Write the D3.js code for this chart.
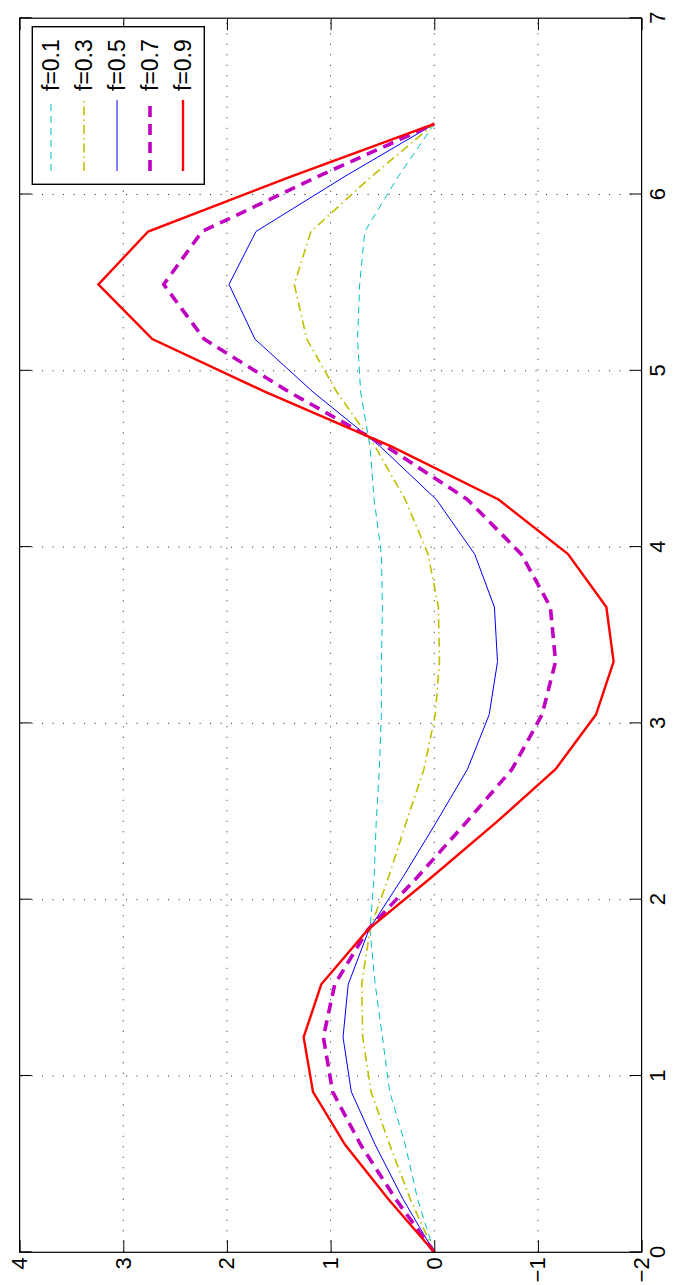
<!DOCTYPE html>
<html><head><meta charset="utf-8">
<script src="https://cdn.jsdelivr.net/npm/d3@7"></script>
<style>body{margin:0;background:#fff} svg{display:block}</style>
</head><body><svg id="c" width="673" height="1285"></svg>
<script>
const tValues = [0, 0.30, 0.61, 0.91, 1.22, 1.52, 1.83, 2.13, 2.44, 2.74, 3.05, 3.35, 3.66, 3.96, 4.27, 4.57, 4.88, 5.18, 5.49, 5.79, 6.10, 6.40];
const f01 = [0, 0.16, 0.28, 0.43, 0.50, 0.57, 0.62, 0.58, 0.56, 0.53, 0.51, 0.51, 0.50, 0.51, 0.58, 0.62, 0.71, 0.74, 0.72, 0.67, 0.35, 0];
const f03 = [0, 0.23, 0.43, 0.61, 0.69, 0.70, 0.62, 0.44, 0.27, 0.10, -0.01, -0.05, -0.04, 0.06, 0.28, 0.57, 0.94, 1.23, 1.35, 1.19, 0.61, 0];
const f05 = [0, 0.30, 0.57, 0.80, 0.88, 0.83, 0.63, 0.30, -0.02, -0.32, -0.53, -0.61, -0.58, -0.39, -0.02, 0.52, 1.17, 1.73, 1.98, 1.72, 0.87, 0];
const f07 = [0, 0.37, 0.71, 0.98, 1.07, 0.96, 0.64, 0.16, -0.31, -0.75, -1.04, -1.17, -1.12, -0.84, -0.32, 0.46, 1.40, 2.22, 2.61, 2.24, 1.13, 0];
const f09 = [0, 0.44, 0.86, 1.17, 1.26, 1.09, 0.64, 0.02, -0.60, -1.17, -1.56, -1.73, -1.66, -1.29, -0.62, 0.41, 1.63, 2.72, 3.24, 2.76, 1.39, 0];
const seriesNames = ["f=0.1", "f=0.3", "f=0.5", "f=0.7", "f=0.9"];
const seriesValues = [f01, f03, f05, f07, f09];
const xTicks = [0, 1, 2, 3, 4, 5, 6, 7];
const yTicks = [-2, -1, 0, 1, 2, 3, 4];

const styles = [
  {color: "#00bfbf", width: 1, dash: "7,5", join: "miter"},
  {color: "#bfbf00", width: 1.6, dash: "9,4,1.5,4", join: "miter"},
  {color: "#0000ff", width: 1, dash: null, join: "miter"},
  {color: "#bf00bf", width: 3.6, dash: "11,7", join: "round"},
  {color: "#ff0000", width: 2.4, dash: null, join: "miter"}
];

const FONT = "'Liberation Sans', Arial, Helvetica, sans-serif";
const svg = d3.select("#c");
// The figure is a landscape plot rotated 90 degrees counter-clockwise
const g = svg.append("g").attr("transform", "translate(0,1285) rotate(-90)");

const L = 32.7, R = 1266.8, T = 19.6, B = 641.6;
const x = d3.scaleLinear().domain([0, 7]).range([L, R]);
const y = d3.scaleLinear().domain([-2, 4]).range([B, T]);

// grid
const grid = g.append("g").attr("stroke", "#222").attr("stroke-width", 1)
  .attr("stroke-dasharray", "1,9.5").attr("fill", "none");
xTicks.filter(d => d > 0 && d < 7).forEach(d => {
  grid.append("line").attr("x1", x(d)).attr("x2", x(d)).attr("y1", B).attr("y2", T);
});
yTicks.filter(d => d > -2 && d < 4).forEach(d => {
  grid.append("line").attr("x1", L).attr("x2", R).attr("y1", y(d)).attr("y2", y(d));
});

// data lines
const line = d3.line().x((d, i) => x(tValues[i])).y(d => y(d));
seriesValues.forEach((vals, i) => {
  const s = styles[i];
  g.append("path").datum(vals).attr("d", line).attr("fill", "none")
    .attr("stroke", s.color).attr("stroke-width", s.width)
    .attr("stroke-dasharray", s.dash).attr("stroke-linejoin", s.join);
});

// axes
function styleAxis(sel, showLabels) {
  sel.select(".domain").remove();
  sel.selectAll(".tick line").attr("stroke", "#000").attr("stroke-width", 1);
  sel.selectAll(".tick text").attr("font-family", FONT).attr("font-size", 22).attr("fill", "#000");
  if (!showLabels) sel.selectAll(".tick text").remove();
}
const axB = g.append("g").attr("transform", `translate(0,${B})`)
  .call(d3.axisBottom(x).tickValues(xTicks).tickSizeInner(-12).tickSizeOuter(0).tickPadding(8).tickFormat(d3.format("d")));
styleAxis(axB, true);
const axT = g.append("g").attr("transform", `translate(0,${T})`)
  .call(d3.axisTop(x).tickValues(xTicks).tickSizeInner(-12).tickSizeOuter(0));
styleAxis(axT, false);
const axLft = g.append("g").attr("transform", `translate(${L},0)`)
  .call(d3.axisLeft(y).tickValues(yTicks).tickSizeInner(-12).tickSizeOuter(0).tickPadding(5).tickFormat(d3.format("d")));
styleAxis(axLft, true);
const axRgt = g.append("g").attr("transform", `translate(${R},0)`)
  .call(d3.axisRight(y).tickValues(yTicks).tickSizeInner(-12).tickSizeOuter(0));
styleAxis(axRgt, false);

// frame
g.append("rect").attr("x", L).attr("y", T).attr("width", R - L).attr("height", B - T)
  .attr("fill", "none").attr("stroke", "#000").attr("stroke-width", 1.2);

// legend
const lgX0 = 1100.7, lgX1 = 1258.3, lgY0 = 32.3, lgY1 = 204.3;
const lg = g.append("g");
lg.append("rect").attr("x", lgX0).attr("y", lgY0).attr("width", lgX1 - lgX0).attr("height", lgY1 - lgY0)
  .attr("fill", "#fff").attr("stroke", "#000").attr("stroke-width", 1.4);
const rowY = d3.scalePoint().domain(seriesNames).range([51, 183]);
seriesNames.forEach((name, i) => {
  const s = styles[i];
  lg.append("line").attr("x1", 1114).attr("x2", 1185).attr("y1", rowY(name)).attr("y2", rowY(name))
    .attr("stroke", s.color).attr("stroke-width", s.width).attr("stroke-dasharray", s.dash);
  lg.append("text").attr("x", 1194).attr("y", rowY(name)).attr("dy", "0.36em")
    .attr("font-family", FONT).attr("font-size", 23).attr("fill", "#000").text(name);
});
</script>
</body></html>
